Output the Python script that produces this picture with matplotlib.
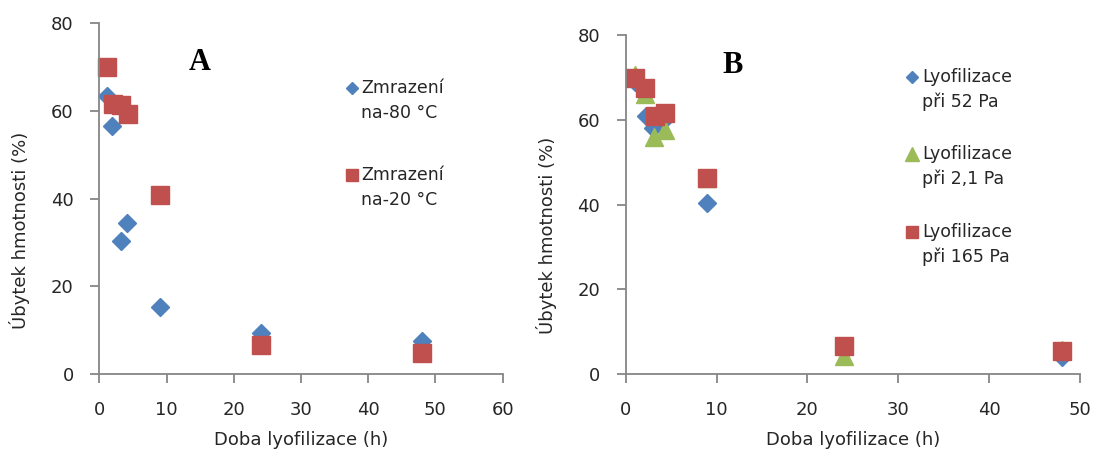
import matplotlib.pyplot as plt

# data
# graf A - zmrazeni
a_cas_80 = [1.1, 1.9, 3.2, 4.1, 9.1, 24, 48]
a_ubytek_80 = [63.4, 56.6, 30.3, 34.5, 15.4, 9.5, 7.5]
a_cas_20 = [1.1, 2.1, 3.2, 4.3, 9.1, 24, 48]
a_ubytek_20 = [70.0, 61.6, 61.2, 59.3, 40.8, 6.7, 4.9]

# graf B - lyofilizace
b_cas_52 = [1.0, 2.2, 3.0, 4.0, 9.0, 24, 48]
b_ubytek_52 = [69.0, 61.0, 58.0, 59.5, 40.5, 6.6, 4.0]
b_cas_2_1 = [1.0, 2.1, 3.1, 4.3, 9.0, 24, 48]
b_ubytek_2_1 = [70.5, 66.0, 56.0, 57.5, 46.2, 4.3, 5.8]
b_cas_165 = [1.0, 2.1, 3.2, 4.3, 9.0, 24, 48]
b_ubytek_165 = [69.8, 67.6, 60.8, 61.6, 46.2, 6.6, 5.6]

labels_a = ["Zmrazení\nna-80 °C", "Zmrazení\nna-20 °C"]
labels_b = ["Lyofilizace\npři 52 Pa", "Lyofilizace\npři 2,1 Pa", "Lyofilizace\npři 165 Pa"]

modra = "#4F81BD"
cervena = "#C0504D"
zelena = "#9BBB59"
seda = "#868686"
text_barva = "#262626"

plt.rcParams['font.family'] = ['DejaVu Sans']

fig = plt.figure(figsize=(10.94, 4.53), dpi=100)
axA = fig.add_axes([0.0908, 0.1737, 0.3686, 0.7762])
axB = fig.add_axes([0.5719, 0.1737, 0.4153, 0.749])


def uprav_osy(ax, xmax):
    ax.set_xlim(0, xmax)
    ax.set_ylim(0, 80)
    ax.set_yticks([0, 20, 40, 60, 80])
    for s in ["top", "right"]:
        ax.spines[s].set_visible(False)
    for s in ["left", "bottom"]:
        ax.spines[s].set_color(seda)
        ax.spines[s].set_linewidth(1.3)
    ax.tick_params(direction="out", length=6.5, width=1.3, color=seda,
                   labelsize=13, labelcolor=text_barva)
    ax.tick_params(axis="y", pad=12)
    ax.tick_params(axis="x", pad=13)
    ax.set_xlabel("Doba lyofilizace (h)", fontsize=13, color=text_barva)
    ax.set_ylabel("Úbytek hmotnosti (%)", fontsize=13, color=text_barva)


def legenda(ax, barva, znacka, msize, x, y, krok, text):
    ax.plot([x], [y], marker=znacka, color=barva, markersize=msize,
            linestyle="none", transform=ax.transAxes, clip_on=False)
    for i, radek in enumerate(text.split("\n")):
        ax.text(x + 0.023, y - i * krok, radek, transform=ax.transAxes,
                fontsize=12.5, va="center", ha="left", color=text_barva)


# graf A
axA.plot(a_cas_80, a_ubytek_80, linestyle="none", marker="D", markersize=9.5,
         color=modra, clip_on=False)
axA.plot(a_cas_20, a_ubytek_20, linestyle="none", marker="s", markersize=13,
         color=cervena, clip_on=False)
uprav_osy(axA, 60)
axA.set_xticks([0, 10, 20, 30, 40, 50, 60])
axA.xaxis.set_label_coords(0.5, -0.162)
axA.yaxis.set_label_coords(-0.172, 0.41)
axA.text(0.248, 0.886, "A", transform=axA.transAxes, fontsize=22,
         fontweight="bold", family="Liberation Serif", ha="center", va="center")
legenda(axA, modra, "D", 6.5, 0.626, 0.813, 0.0711, labels_a[0])
legenda(axA, cervena, "s", 8.5, 0.626, 0.567, 0.0711, labels_a[1])

# graf B
axB.plot(b_cas_52, b_ubytek_52, linestyle="none", marker="D", markersize=9.5,
         color=modra, clip_on=False)
axB.plot(b_cas_2_1, b_ubytek_2_1, linestyle="none", marker="^", markersize=13.5,
         color=zelena, clip_on=False)
axB.plot(b_cas_165, b_ubytek_165, linestyle="none", marker="s", markersize=13.5,
         color=cervena, clip_on=False)
uprav_osy(axB, 50)
axB.set_xticks([0, 10, 20, 30, 40, 50])
axB.xaxis.set_label_coords(0.5, -0.168)
axB.yaxis.set_label_coords(-0.152, 0.41)
axB.text(0.2355, 0.9116, "B", transform=axB.transAxes, fontsize=22,
         fontweight="bold", family="Liberation Serif", ha="center", va="center")
legenda(axB, modra, "D", 6.5, 0.6295, 0.877, 0.0737, labels_b[0])
legenda(axB, zelena, "^", 9.5, 0.6295, 0.649, 0.0737, labels_b[1])
legenda(axB, cervena, "s", 8.5, 0.6295, 0.420, 0.0737, labels_b[2])

fig.savefig("out.png", dpi=100)
